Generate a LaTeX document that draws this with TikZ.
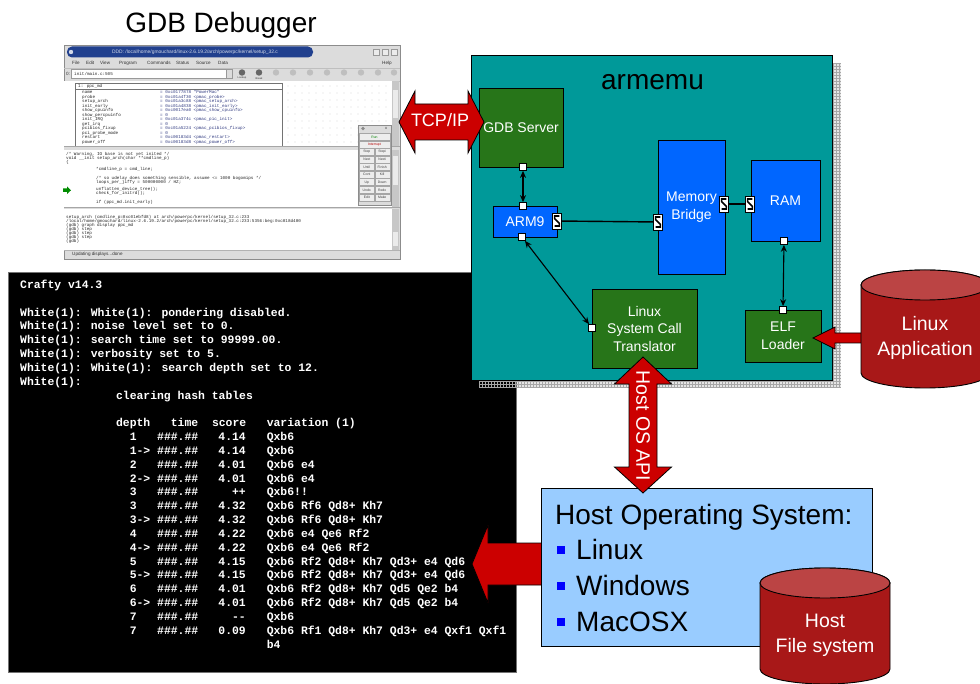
\documentclass[tikz,border=0pt]{standalone}
\usepackage{fontspec}
\setmainfont{Liberation Sans}
\newfontfamily\monof{Liberation Mono}
\usetikzlibrary{arrows.meta}
\definecolor{tealbg}{HTML}{009999}
\definecolor{dkgreen}{HTML}{277519}
\definecolor{boxblue}{HTML}{0066FF}
\definecolor{arrred}{HTML}{CC0000}
\definecolor{cylred}{HTML}{A81818}
\definecolor{cyltop}{HTML}{BB4444}
\definecolor{osblue}{HTML}{99CCFF}
\definecolor{bullblue}{HTML}{0000FF}
\definecolor{uibg}{HTML}{DCDCDC}
\definecolor{titleblue}{HTML}{21408E}
\definecolor{valblue}{HTML}{303A80}
\newcommand\trow[4]{%
 \node[term] (r#1d) at (129.6,{288.5+13.83*#1}) {#2};
 \node[term] (r#1t) at (157,{288.5+13.83*#1}) {\#\#\#.\#\#};
 \node[term,anchor=base east] (r#1s) at (246,{288.5+13.83*#1}) {#3};
 \node[term] (r#1v) at (266.6,{288.5+13.83*#1}) {#4};}
\newcommand\tline[3]{\node[term] (tl#1) at (#2,{288.5+13.83*#1}) {#3};}
\newcommand\cyl[5]{%
 \draw[fill=cylred, line width=0.9] (#1-#4,#2) -- (#1-#4,#3) arc[start angle=180, end angle=0, x radius=#4, y radius=#5] -- (#1+#4,#2) arc[start angle=0, end angle=-180, x radius=#4, y radius=#5] -- cycle;
 \draw[fill=cyltop, line width=0.9] (#1,#2) ellipse[x radius=#4, y radius=#5];}
\tikzset{
 ui/.style={font=\fontsize{4.6}{5}\selectfont, inner sep=0, text=black!80},
 code/.style={font=\monof\fontsize{4.3}{5}\selectfont, inner sep=0, anchor=base west, text=black!85},
 btn/.style={draw=black!35, fill=white!93!black, minimum width=15, minimum height=7, inner sep=0, font=\fontsize{3.4}{4}\selectfont, text=black!75},
 term/.style={font=\monof\bfseries\fontsize{11.4}{13.83}\selectfont, text=white, inner sep=0, anchor=base west},
 gbox/.style={draw=black, fill=dkgreen, text=white, font=\fontsize{14}{17.5}\selectfont, align=center, line width=0.8, inner sep=0},
 bbox/.style={gbox, fill=boxblue},
 port/.style={draw=black, fill=white, minimum size=7, inner sep=0, line width=0.7},
 sport/.style={draw=black, fill=white, minimum width=9, minimum height=16, inner sep=0, line width=0.7,
   path picture={\draw[line width=1.6, line join=miter] (path picture bounding box.center) ++(2.4,-5) -- ++(-4.8,0) -- ++(0,2.6) -- ++(4.8,4.8) -- ++(0,2.6) -- ++(-4.8,0);}},
 dbl/.style={{Stealth[length=7pt,width=6pt]}-{Stealth[length=7pt,width=6pt]}, line width=1.1},
 plain/.style={line width=1.4},
 rarrow/.style={fill=arrred, draw=black, line width=0.8, line join=miter},
 big/.style={font=\fontsize{28}{36}\selectfont, inner sep=0},
 cyltext/.style={text=white, font=\fontsize{19.5}{25}\selectfont, align=center, inner sep=0},
 bullet/.style={fill=bullblue, minimum size=8, inner sep=0},
}
\begin{document}
\begin{tikzpicture}[x=1pt,y=-1pt]
\useasboundingbox (0,0) rectangle (980,684);
\fill[white] (0,0) rectangle (980,684);

% ---------- title
\node[big, anchor=base] (gdbtitle) at (221,33) {GDB Debugger};

% ---------- GDB screenshot
\node[draw=black!45, fill=uibg, minimum width=336, minimum height=214, inner sep=0] (gdbwin) at (232,152) {};
\fill[titleblue, rounded corners=5] (67,46.5) rectangle (313,57.5);
\fill[white!80!titleblue] (71,52) circle (2.2);
\node[ui, text=white!80!titleblue, font=\fontsize{4.9}{5}\selectfont] (gtitle) at (195,52) {DDD: /local/home/gmouchard/linux-2.6.19.2/arch/powerpc/kernel/setup\_32.c};
\foreach \bx [count=\i] in {376,385,394} \node[draw=black!40, fill=white!92!black, minimum size=6, inner sep=0] (gwb\i) at (\bx,52) {};
\foreach \mx/\mt [count=\i] in {72/File,86/Edit,100/View,119/Program,147/Commands,176/Status,196/Source,218/Data,382/Help}
  \node[ui, anchor=west] (gm\i) at (\mx,63) {\mt};
\draw[black!25] (64,68) -- (400,68);
\node[ui, anchor=west] (g0) at (66,73.8) {0:};
\node[draw=black!40, fill=white, minimum width=155, minimum height=8.5, inner sep=0] (gfield) at (148.5,73.8) {};
\node[code, anchor=west] (gft) at (74,73.8) {init/main.c:505};
\node[draw=black!40, fill=uibg, minimum width=6, minimum height=8.5, inner sep=0] (gdd) at (229,73.8) {};
\foreach \ix [count=\i] in {242,259,276,293,310,327,344,361,378,394} \fill[black!25] (\ix,72.5) circle (3.2);
\fill[black!60] (242,72.5) circle (3.2);
\fill[black!60] (259,72.5) circle (3.2);
\node[ui, font=\fontsize{2.6}{3}\selectfont] (gil1) at (242,78.3) {Lookup};
\node[ui, font=\fontsize{2.6}{3}\selectfont] (gil2) at (259,78.3) {Break};
\draw[black!25] (64,81) -- (400,81);
% data pane
\fill[white] (64,81.5) rectangle (392,146);
\foreach \dx in {288,295,...,386} \foreach \dy in {86,93,...,142} \fill[black!40] (\dx,\dy) circle (0.4);
\draw[fill=white, draw=black!55] (75,83) rectangle (282,146);
\node[code, anchor=west] (gdh) at (78,86.3) {1: ppc\_md};
\draw[black!55] (75,89.3) -- (282,89.3);
\foreach \nm/\vl [count=\i] in {
  name/{= 0xc0177878 "PowerMac"},
  probe/{= 0xc01a4f30 <pmac\_probe>},
  setup\_arch/{= 0xc01a3c88 <pmac\_setup\_arch>},
  init\_early/{= 0xc01a4838 <pmac\_init\_early>},
  show\_cpuinfo/{= 0xc0017ea0 <pmac\_show\_cpuinfo>},
  show\_percpuinfo/{= 0},
  init\_IRQ/{= 0xc01a374c <pmac\_pic\_init>},
  get\_irq/{= 0},
  pcibios\_fixup/{= 0xc01a5224 <pmac\_pcibios\_fixup>},
  pci\_probe\_mode/{= 0},
  restart/{= 0xc00183d4 <pmac\_restart>},
  power\_off/{= 0xc00183d8 <pmac\_power\_off>}}
{
  \node[code] (gdn\i) at (82,{89.3+4.5*\i}) {\nm};
  \node[code, text=valblue] (gdv\i) at (160,{89.3+4.5*\i}) {\vl};
}
\fill[black!22] (392,81.5) rectangle (399,146);
\fill[black!8] (393,90) rectangle (398,118);
% separator
\fill[uibg] (64,146) rectangle (400,150);
\draw[black!35] (64,146) -- (400,146);
% source pane
\fill[white] (64,150) rectangle (392,207);
\fill[black!22] (392,150) rectangle (399,207);
\fill[black!8] (393,156) rectangle (398,185);
\node[code] (gs1) at (66,155.8) {/* Warning, IO base is not yet inited */};
\node[code] (gs2) at (66,159.8) {void \_\_init setup\_arch(char **cmdline\_p)};
\node[code] (gs3) at (66,163.8) {\{};
\node[code] (gs4) at (96,170.5) {*cmdline\_p = cmd\_line;};
\node[code] (gs5) at (96,179.2) {/* so udelay does something sensible, assume <= 1000 bogomips */};
\node[code] (gs6) at (96,183.5) {loops\_per\_jiffy = 500000000 / HZ;};
\node[code] (gs7) at (96,190.8) {unflatten\_device\_tree();};
\node[code] (gs8) at (96,194.8) {check\_for\_initrd();};
\node[code] (gs9) at (96,203.8) {if (ppc\_md.init\_early)};
\fill[green!55!black] (63,188.5) -- (67,188.5) -- (67,186.5) -- (71,190.3) -- (67,194) -- (67,192) -- (63,192) -- cycle;
% button panel
\node[draw=black!45, fill=uibg, minimum width=33, minimum height=80, inner sep=0] (gbp) at (374.5,165) {};
\fill[black!45] (363,128.5) circle (1.8);
\node[ui, font=\fontsize{4}{4}\selectfont] (gbx) at (386,128.5) {x};
\node[btn, minimum width=31] (grun) at (374.5,137) {\textcolor{green!50!black}{Run}};
\node[btn, minimum width=31] (gint) at (374.5,144.3) {\textcolor{red!70!black}{Interrupt}};
\foreach \a/\b/\yy [count=\i] in {Step/Stepi/152,Next/Nexti/159.5,Until/Finish/167,Cont/Kill/174.7,Up/Down/182.2,Undo/Redo/189.8,Edit/Make/197.3}
{
  \node[btn] (gbl\i) at (366.8,\yy) {\a};
  \node[btn] (gbr\i) at (382.2,\yy) {\b};
}
% console
\fill[uibg] (64,207) rectangle (400,209);
\draw[black!35] (64,207) -- (400,207);
\fill[white] (64,209) rectangle (392,250);
\fill[black!22] (392,209) rectangle (399,250);
\fill[black!8] (393,232) rectangle (398,246);
\node[code] (gc1) at (66,218.2) {setup\_arch (cmdline\_p=0xc01ebfd8) at arch/powerpc/kernel/setup\_32.c:233};
\node[code] (gc2) at (66,222.2) {/local/home/gmouchard/linux-2.6.19.2/arch/powerpc/kernel/setup\_32.c:233:5356:beg:0xc018d400};
\node[code] (gc3) at (66,226.5) {(gdb) graph display ppc\_md};
\node[code] (gc4) at (66,230.5) {(gdb) step};
\node[code] (gc5) at (66,234.5) {(gdb) step};
\node[code] (gc6) at (66,238.5) {(gdb) step};
\node[code] (gc7) at (66,242.5) {(gdb)};
\draw[black!30] (64,250) -- (400,250);
\node[ui, anchor=west] (gst) at (72,254.5) {Updating displays...done};

% ---------- terminal
\node[draw=black!55, fill=black, minimum width=508, minimum height=400, inner sep=0] (term) at (262,472) {};
\tline{0}{20}{Crafty v14.3}
\tline{2}{20}{White(1): White(1): pondering disabled.}
\tline{3}{20}{White(1): noise level set to 0.}
\tline{4}{20}{White(1): search time set to 99999.00.}
\tline{5}{20}{White(1): verbosity set to 5.}
\tline{6}{20}{White(1): White(1): search depth set to 12.}
\tline{7}{20}{White(1):}
\tline{8}{115.9}{clearing hash tables}
\node[term] (h1) at (115.9,{288.5+13.83*10}) {depth};
\node[term] (h2) at (170.7,{288.5+13.83*10}) {time};
\node[term] (h3) at (211.8,{288.5+13.83*10}) {score};
\node[term] (h4) at (266.6,{288.5+13.83*10}) {variation (1)};
\trow{11}{1}{4.14}{Qxb6}
\trow{12}{1->}{4.14}{Qxb6}
\trow{13}{2}{4.01}{Qxb6 e4}
\trow{14}{2->}{4.01}{Qxb6 e4}
\trow{15}{3}{++}{Qxb6!!}
\trow{16}{3}{4.32}{Qxb6 Rf6 Qd8+ Kh7}
\trow{17}{3->}{4.32}{Qxb6 Rf6 Qd8+ Kh7}
\trow{18}{4}{4.22}{Qxb6 e4 Qe6 Rf2}
\trow{19}{4->}{4.22}{Qxb6 e4 Qe6 Rf2}
\trow{20}{5}{4.15}{Qxb6 Rf2 Qd8+ Kh7 Qd3+ e4 Qd6}
\trow{21}{5->}{4.15}{Qxb6 Rf2 Qd8+ Kh7 Qd3+ e4 Qd6}
\trow{22}{6}{4.01}{Qxb6 Rf2 Qd8+ Kh7 Qd5 Qe2 b4}
\trow{23}{6->}{4.01}{Qxb6 Rf2 Qd8+ Kh7 Qd5 Qe2 b4}
\trow{24}{7}{-{}-}{Qxb6}
\trow{25}{7}{0.09}{Qxb6 Rf1 Qd8+ Kh7 Qd3+ e4 Qxf1 Qxf1}
\tline{26}{266.6}{b4}

% ---------- armemu shadow
\fill[black, opacity=0.1] (479,63) rectangle (841,388);
\foreach \gx in {479,482,...,841} \draw[black!35, line width=0.35] (\gx,63) -- (\gx,388);
\foreach \gy in {63,66,...,388} \draw[black!35, line width=0.35] (479,\gy) -- (841,\gy);

% ---------- armemu
\node[draw=black, fill=tealbg, line width=0.8, minimum width=361, minimum height=325, inner sep=0] (armemu) at (651.5,217.5) {};
\node[big, anchor=base] (armt) at (652.5,90) {armemu};

\node[gbox, minimum width=84, minimum height=79] (gdbs) at (521,127.5) {GDB Server};
\node[bbox, minimum width=64, minimum height=31] (arm) at (525,221.5) {ARM9};
\node[bbox, minimum width=67, minimum height=134] (mb) at (691.5,207) {Memory\\Bridge};
\node[bbox, minimum width=69, minimum height=81] (ram) at (785.5,200.5) {RAM};
\node[gbox, minimum width=105, minimum height=79] (lsct) at (644.5,328.5) {Linux\\System Call\\Translator};
\node[gbox, minimum width=76, minimum height=52] (elf) at (783,336) {ELF\\Loader};

\node[port] (p1) at (523,167) {};
\node[port] (p2) at (523,206) {};
\node[port] (p3) at (522,237) {};
\node[sport] (s1) at (557,221) {};
\node[sport] (s2) at (658,222) {};
\node[sport] (s3) at (724,204) {};
\node[sport] (s4) at (750,204) {};
\node[port] (p4) at (784,241) {};
\node[port] (p5) at (783,310) {};
\node[port] (p6) at (592,328) {};

\draw[dbl] (p1) -- (p2);
\draw[plain] (s1) -- (s2);
\draw[plain] (s3) -- (s4);
\draw[dbl] (p4) -- (p5);
\draw[dbl] (p3) -- (p6);

% ---------- TCP/IP arrow
\draw[rarrow] (399,122) -- (415,91) -- (415,104) -- (468,104) -- (468,91) -- (484,122) -- (468,153) -- (468,140) -- (415,140) -- (415,153) -- cycle;
\node[text=white, font=\fontsize{18}{20}\selectfont, anchor=base, inner sep=0] (tcp) at (440,127) {TCP/IP};

% ---------- Linux Application
\draw[rarrow] (813,338) -- (835,327) -- (835,333) -- (866,333) -- (866,343) -- (835,343) -- (835,349) -- cycle;
\cyl{925}{285}{373}{64}{15}
\node[cyltext] (lapp) at (925,337.5) {Linux\\Application};

% ---------- Host OS
\draw[rarrow] (472,564) -- (488,525) -- (488,543) -- (546,543) -- (546,585) -- (488,585) -- (488,603) -- cycle;
\node[draw=black, fill=osblue, line width=0.9, minimum width=331, minimum height=158, inner sep=0] (hos) at (706.5,567) {};
\node[big, anchor=base west] (hostt) at (555,524) {Host Operating System:};
\node[bullet] (b1) at (561,549.5) {};
\node[bullet] (b2) at (561,585.5) {};
\node[bullet] (b3) at (561,621.5) {};
\node[big, anchor=base west] (i1) at (576,559.5) {Linux};
\node[big, anchor=base west] (i2) at (576,595.5) {Windows};
\node[big, anchor=base west] (i3) at (576,631.5) {MacOSX};

% ---------- Host OS API arrow
\draw[rarrow] (643,357) -- (671.5,384) -- (657,384) -- (657,467) -- (671.5,467) -- (643,493) -- (614.5,467) -- (629,467) -- (629,384) -- (614.5,384) -- cycle;
\node[text=white, font=\fontsize{19.5}{22}\selectfont, rotate=-90, inner sep=0] (api) at (643,426) {Host OS API};

% ---------- Host File system
\cyl{825}{583}{669}{65}{15}
\node[cyltext] (hfs) at (825,635.5) {Host\\File system};
\end{tikzpicture}
\end{document}
